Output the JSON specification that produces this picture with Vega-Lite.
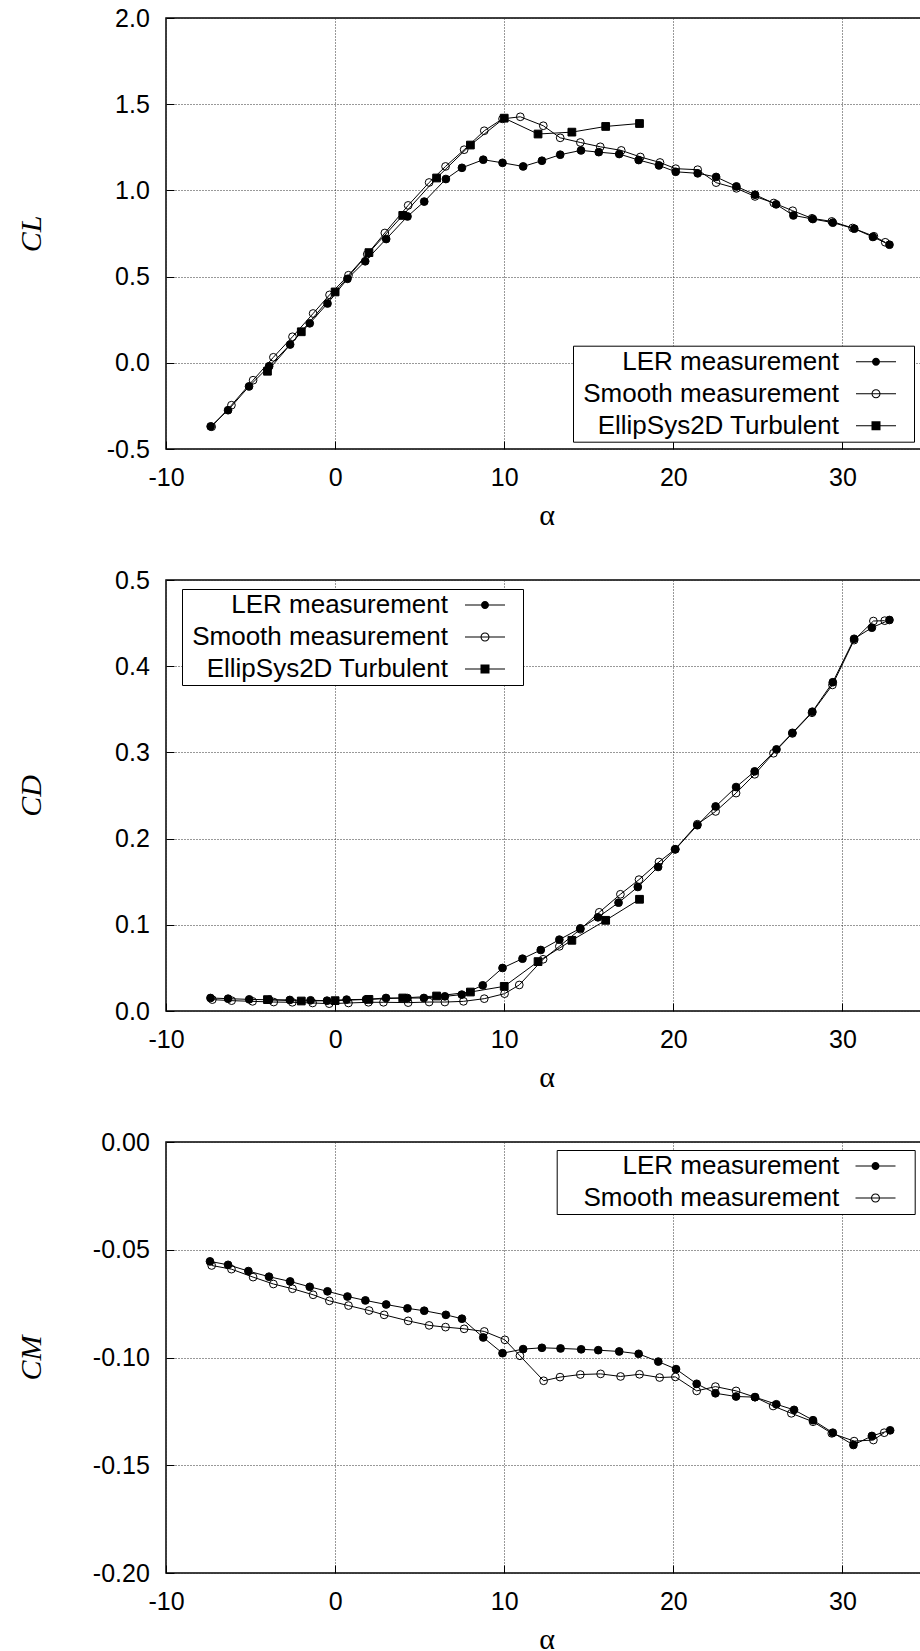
{
  "$schema": "https://vega.github.io/schema/vega-lite/v6.json",
  "padding": {"left": 15, "top": 5, "right": 0, "bottom": 5},
  "bounds": "flush",
  "spacing": 131,
  "resolve": {
    "scale": {"shape": "independent", "fill": "independent"},
    "legend": {"shape": "independent", "fill": "independent"}
  },
  "config": {
    "view": {"stroke": "black", "strokeWidth": 1.5},
    "axis": {
      "domain": false, "grid": true, "gridColor": "#333", "gridDash": [1, 2], "gridWidth": 1,
      "ticks": true, "tickSize": -8, "tickColor": "black", "tickWidth": 1,
      "labelFont": "Liberation Sans", "labelFontSize": 25, "labelColor": "black", "labelFlush": false,
      "titleFont": "Liberation Serif", "titleFontWeight": "normal", "titleColor": "black",
      "labelExpr": "replace(datum.label, '−', '-')"
    },
    "axisX": {"labelPadding": 24, "titleFontSize": 30, "titleY": 75, "titleBaseline": "alphabetic"},
    "axisY": {"labelPadding": 24.7, "titleFontSize": 30, "titleFontStyle": "italic", "titleX": -135, "titleY": 215.5, "titleBaseline": "middle"},
    "legend": {
      "orient": "none", "title": null,
      "labelFont": "Liberation Sans", "labelFontSize": 26, "labelColor": "black", "labelLimit": 1000, "labelAlign": "right",
      "symbolSize": 625, "symbolStrokeWidth": 1, "symbolStrokeColor": "black", "symbolFillColor": "black", "symbolOpacity": 1,
      "rowPadding": 6, "padding": 3, "strokeColor": "black", "fillColor": "white"
    }
  },
  "datasets": {
    "cl": [
      {"s": "LER measurement", "a": -7.36, "v": -0.369}, {"s": "LER measurement", "a": -6.33, "v": -0.275},
      {"s": "LER measurement", "a": -5.09, "v": -0.137}, {"s": "LER measurement", "a": -3.9, "v": -0.02},
      {"s": "LER measurement", "a": -2.66, "v": 0.106}, {"s": "LER measurement", "a": -1.5, "v": 0.229},
      {"s": "LER measurement", "a": -0.45, "v": 0.344}, {"s": "LER measurement", "a": 0.73, "v": 0.487},
      {"s": "LER measurement", "a": 1.78, "v": 0.589}, {"s": "LER measurement", "a": 3.02, "v": 0.718},
      {"s": "LER measurement", "a": 4.28, "v": 0.849}, {"s": "LER measurement", "a": 5.27, "v": 0.935},
      {"s": "LER measurement", "a": 6.55, "v": 1.066}, {"s": "LER measurement", "a": 7.5, "v": 1.131},
      {"s": "LER measurement", "a": 8.76, "v": 1.178}, {"s": "LER measurement", "a": 9.9, "v": 1.16},
      {"s": "LER measurement", "a": 11.12, "v": 1.139}, {"s": "LER measurement", "a": 12.23, "v": 1.172},
      {"s": "LER measurement", "a": 13.31, "v": 1.207}, {"s": "LER measurement", "a": 14.54, "v": 1.232},
      {"s": "LER measurement", "a": 15.59, "v": 1.222}, {"s": "LER measurement", "a": 16.8, "v": 1.211},
      {"s": "LER measurement", "a": 17.95, "v": 1.176}, {"s": "LER measurement", "a": 19.15, "v": 1.145},
      {"s": "LER measurement", "a": 20.14, "v": 1.108}, {"s": "LER measurement", "a": 21.44, "v": 1.099},
      {"s": "LER measurement", "a": 22.53, "v": 1.078}, {"s": "LER measurement", "a": 23.73, "v": 1.023},
      {"s": "LER measurement", "a": 24.83, "v": 0.975}, {"s": "LER measurement", "a": 26.08, "v": 0.919},
      {"s": "LER measurement", "a": 27.1, "v": 0.855}, {"s": "LER measurement", "a": 28.25, "v": 0.834},
      {"s": "LER measurement", "a": 29.43, "v": 0.813}, {"s": "LER measurement", "a": 30.7, "v": 0.778},
      {"s": "LER measurement", "a": 31.8, "v": 0.73}, {"s": "LER measurement", "a": 32.78, "v": 0.685},
      {"s": "Smooth measurement", "a": -7.3, "v": -0.371}, {"s": "Smooth measurement", "a": -6.13, "v": -0.246},
      {"s": "Smooth measurement", "a": -4.85, "v": -0.101}, {"s": "Smooth measurement", "a": -3.65, "v": 0.032},
      {"s": "Smooth measurement", "a": -2.52, "v": 0.151}, {"s": "Smooth measurement", "a": -1.3, "v": 0.286},
      {"s": "Smooth measurement", "a": -0.33, "v": 0.394}, {"s": "Smooth measurement", "a": 0.79, "v": 0.508},
      {"s": "Smooth measurement", "a": 1.9, "v": 0.63}, {"s": "Smooth measurement", "a": 2.94, "v": 0.753},
      {"s": "Smooth measurement", "a": 4.32, "v": 0.913}, {"s": "Smooth measurement", "a": 5.56, "v": 1.046},
      {"s": "Smooth measurement", "a": 6.53, "v": 1.139}, {"s": "Smooth measurement", "a": 7.63, "v": 1.236},
      {"s": "Smooth measurement", "a": 8.82, "v": 1.346}, {"s": "Smooth measurement", "a": 9.9, "v": 1.415},
      {"s": "Smooth measurement", "a": 10.95, "v": 1.427}, {"s": "Smooth measurement", "a": 12.31, "v": 1.375},
      {"s": "Smooth measurement", "a": 13.31, "v": 1.305}, {"s": "Smooth measurement", "a": 14.5, "v": 1.278},
      {"s": "Smooth measurement", "a": 15.68, "v": 1.253}, {"s": "Smooth measurement", "a": 16.92, "v": 1.232},
      {"s": "Smooth measurement", "a": 18.05, "v": 1.194}, {"s": "Smooth measurement", "a": 19.21, "v": 1.162},
      {"s": "Smooth measurement", "a": 20.14, "v": 1.126}, {"s": "Smooth measurement", "a": 21.44, "v": 1.12},
      {"s": "Smooth measurement", "a": 22.53, "v": 1.045}, {"s": "Smooth measurement", "a": 23.73, "v": 1.012},
      {"s": "Smooth measurement", "a": 24.83, "v": 0.965}, {"s": "Smooth measurement", "a": 25.94, "v": 0.927},
      {"s": "Smooth measurement", "a": 27.06, "v": 0.882}, {"s": "Smooth measurement", "a": 28.2, "v": 0.838},
      {"s": "Smooth measurement", "a": 29.37, "v": 0.82}, {"s": "Smooth measurement", "a": 30.6, "v": 0.782},
      {"s": "Smooth measurement", "a": 31.86, "v": 0.734}, {"s": "Smooth measurement", "a": 32.53, "v": 0.699},
      {"s": "EllipSys2D Turbulent", "a": -4, "v": -0.049}, {"s": "EllipSys2D Turbulent", "a": -2, "v": 0.18},
      {"s": "EllipSys2D Turbulent", "a": 0, "v": 0.411}, {"s": "EllipSys2D Turbulent", "a": 2, "v": 0.639},
      {"s": "EllipSys2D Turbulent", "a": 4, "v": 0.855}, {"s": "EllipSys2D Turbulent", "a": 6, "v": 1.072},
      {"s": "EllipSys2D Turbulent", "a": 8, "v": 1.263}, {"s": "EllipSys2D Turbulent", "a": 10, "v": 1.419},
      {"s": "EllipSys2D Turbulent", "a": 12, "v": 1.327}, {"s": "EllipSys2D Turbulent", "a": 14, "v": 1.338},
      {"s": "EllipSys2D Turbulent", "a": 16, "v": 1.371}, {"s": "EllipSys2D Turbulent", "a": 18, "v": 1.388}
    ],
    "cd": [
      {"s": "LER measurement", "a": -7.37, "v": 0.0151}, {"s": "LER measurement", "a": -6.33, "v": 0.0143},
      {"s": "LER measurement", "a": -5.08, "v": 0.0135}, {"s": "LER measurement", "a": -3.9, "v": 0.013},
      {"s": "LER measurement", "a": -2.68, "v": 0.0128}, {"s": "LER measurement", "a": -1.45, "v": 0.0124},
      {"s": "LER measurement", "a": -0.48, "v": 0.012}, {"s": "LER measurement", "a": 0.68, "v": 0.0132},
      {"s": "LER measurement", "a": 1.83, "v": 0.0135}, {"s": "LER measurement", "a": 3.01, "v": 0.0151},
      {"s": "LER measurement", "a": 4.28, "v": 0.015}, {"s": "LER measurement", "a": 5.25, "v": 0.0151},
      {"s": "LER measurement", "a": 6.49, "v": 0.017}, {"s": "LER measurement", "a": 7.49, "v": 0.019},
      {"s": "LER measurement", "a": 8.73, "v": 0.0298}, {"s": "LER measurement", "a": 9.9, "v": 0.0499},
      {"s": "LER measurement", "a": 11.08, "v": 0.0607}, {"s": "LER measurement", "a": 12.16, "v": 0.0708},
      {"s": "LER measurement", "a": 13.26, "v": 0.0828}, {"s": "LER measurement", "a": 14.5, "v": 0.0959},
      {"s": "LER measurement", "a": 15.54, "v": 0.1087}, {"s": "LER measurement", "a": 16.76, "v": 0.1257},
      {"s": "LER measurement", "a": 17.9, "v": 0.1439}, {"s": "LER measurement", "a": 19.1, "v": 0.1671},
      {"s": "LER measurement", "a": 20.12, "v": 0.1876}, {"s": "LER measurement", "a": 21.42, "v": 0.2155},
      {"s": "LER measurement", "a": 22.5, "v": 0.2373}, {"s": "LER measurement", "a": 23.71, "v": 0.2598},
      {"s": "LER measurement", "a": 24.81, "v": 0.278}, {"s": "LER measurement", "a": 26.1, "v": 0.3035},
      {"s": "LER measurement", "a": 27.04, "v": 0.3227}, {"s": "LER measurement", "a": 28.22, "v": 0.3472},
      {"s": "LER measurement", "a": 29.43, "v": 0.3814}, {"s": "LER measurement", "a": 30.69, "v": 0.4318},
      {"s": "LER measurement", "a": 31.74, "v": 0.4447}, {"s": "LER measurement", "a": 32.78, "v": 0.4536},
      {"s": "Smooth measurement", "a": -7.26, "v": 0.0132}, {"s": "Smooth measurement", "a": -6.12, "v": 0.012},
      {"s": "Smooth measurement", "a": -4.88, "v": 0.0112}, {"s": "Smooth measurement", "a": -3.63, "v": 0.0104},
      {"s": "Smooth measurement", "a": -2.53, "v": 0.0101}, {"s": "Smooth measurement", "a": -1.33, "v": 0.0093},
      {"s": "Smooth measurement", "a": -0.35, "v": 0.0085}, {"s": "Smooth measurement", "a": 0.79, "v": 0.0093},
      {"s": "Smooth measurement", "a": 1.97, "v": 0.0101}, {"s": "Smooth measurement", "a": 2.86, "v": 0.0101},
      {"s": "Smooth measurement", "a": 4.32, "v": 0.0097}, {"s": "Smooth measurement", "a": 5.56, "v": 0.0104},
      {"s": "Smooth measurement", "a": 6.49, "v": 0.0104}, {"s": "Smooth measurement", "a": 7.59, "v": 0.0112},
      {"s": "Smooth measurement", "a": 8.82, "v": 0.0143}, {"s": "Smooth measurement", "a": 10.02, "v": 0.0201},
      {"s": "Smooth measurement", "a": 10.89, "v": 0.0302}, {"s": "Smooth measurement", "a": 12.3, "v": 0.06},
      {"s": "Smooth measurement", "a": 13.26, "v": 0.075}, {"s": "Smooth measurement", "a": 14.5, "v": 0.0948},
      {"s": "Smooth measurement", "a": 15.62, "v": 0.1145}, {"s": "Smooth measurement", "a": 16.87, "v": 0.1354},
      {"s": "Smooth measurement", "a": 17.97, "v": 0.1524}, {"s": "Smooth measurement", "a": 19.15, "v": 0.1729},
      {"s": "Smooth measurement", "a": 20.1, "v": 0.1876}, {"s": "Smooth measurement", "a": 21.42, "v": 0.2167},
      {"s": "Smooth measurement", "a": 22.5, "v": 0.2315}, {"s": "Smooth measurement", "a": 23.71, "v": 0.2528},
      {"s": "Smooth measurement", "a": 24.81, "v": 0.2746}, {"s": "Smooth measurement", "a": 25.92, "v": 0.299},
      {"s": "Smooth measurement", "a": 27.04, "v": 0.322}, {"s": "Smooth measurement", "a": 28.2, "v": 0.346},
      {"s": "Smooth measurement", "a": 29.41, "v": 0.3783}, {"s": "Smooth measurement", "a": 30.69, "v": 0.4303},
      {"s": "Smooth measurement", "a": 31.83, "v": 0.4524}, {"s": "Smooth measurement", "a": 32.5, "v": 0.4528},
      {"s": "EllipSys2D Turbulent", "a": -4, "v": 0.0132}, {"s": "EllipSys2D Turbulent", "a": -2, "v": 0.0116},
      {"s": "EllipSys2D Turbulent", "a": 0, "v": 0.012}, {"s": "EllipSys2D Turbulent", "a": 2, "v": 0.0135},
      {"s": "EllipSys2D Turbulent", "a": 4, "v": 0.0151}, {"s": "EllipSys2D Turbulent", "a": 6, "v": 0.0174},
      {"s": "EllipSys2D Turbulent", "a": 8, "v": 0.022}, {"s": "EllipSys2D Turbulent", "a": 10, "v": 0.0286},
      {"s": "EllipSys2D Turbulent", "a": 12, "v": 0.0573}, {"s": "EllipSys2D Turbulent", "a": 14, "v": 0.082},
      {"s": "EllipSys2D Turbulent", "a": 16, "v": 0.1052}, {"s": "EllipSys2D Turbulent", "a": 18, "v": 0.1296}
    ],
    "cm": [
      {"s": "LER measurement", "a": -7.4, "v": -0.0554}, {"s": "LER measurement", "a": -6.33, "v": -0.057},
      {"s": "LER measurement", "a": -5.13, "v": -0.0599}, {"s": "LER measurement", "a": -3.91, "v": -0.0625},
      {"s": "LER measurement", "a": -2.66, "v": -0.0647}, {"s": "LER measurement", "a": -1.5, "v": -0.0672},
      {"s": "LER measurement", "a": -0.45, "v": -0.0693}, {"s": "LER measurement", "a": 0.73, "v": -0.0717},
      {"s": "LER measurement", "a": 1.79, "v": -0.0735}, {"s": "LER measurement", "a": 3.02, "v": -0.0754},
      {"s": "LER measurement", "a": 4.28, "v": -0.0772}, {"s": "LER measurement", "a": 5.27, "v": -0.0783},
      {"s": "LER measurement", "a": 6.55, "v": -0.0802}, {"s": "LER measurement", "a": 7.5, "v": -0.082},
      {"s": "LER measurement", "a": 8.76, "v": -0.0907}, {"s": "LER measurement", "a": 9.9, "v": -0.098},
      {"s": "LER measurement", "a": 11.12, "v": -0.0961}, {"s": "LER measurement", "a": 12.23, "v": -0.0955},
      {"s": "LER measurement", "a": 13.33, "v": -0.0958}, {"s": "LER measurement", "a": 14.55, "v": -0.0962},
      {"s": "LER measurement", "a": 15.56, "v": -0.0966}, {"s": "LER measurement", "a": 16.8, "v": -0.0972},
      {"s": "LER measurement", "a": 17.95, "v": -0.0983}, {"s": "LER measurement", "a": 19.11, "v": -0.1019},
      {"s": "LER measurement", "a": 20.16, "v": -0.1054}, {"s": "LER measurement", "a": 21.38, "v": -0.1122},
      {"s": "LER measurement", "a": 22.49, "v": -0.1166}, {"s": "LER measurement", "a": 23.71, "v": -0.1181},
      {"s": "LER measurement", "a": 24.83, "v": -0.1184}, {"s": "LER measurement", "a": 26.09, "v": -0.1217},
      {"s": "LER measurement", "a": 27.14, "v": -0.1243}, {"s": "LER measurement", "a": 28.26, "v": -0.1291},
      {"s": "LER measurement", "a": 29.43, "v": -0.1349}, {"s": "LER measurement", "a": 30.65, "v": -0.1406},
      {"s": "LER measurement", "a": 31.74, "v": -0.1364}, {"s": "LER measurement", "a": 32.82, "v": -0.1338},
      {"s": "Smooth measurement", "a": -7.3, "v": -0.0573}, {"s": "Smooth measurement", "a": -6.13, "v": -0.059},
      {"s": "Smooth measurement", "a": -4.85, "v": -0.0627}, {"s": "Smooth measurement", "a": -3.65, "v": -0.0659},
      {"s": "Smooth measurement", "a": -2.52, "v": -0.0681}, {"s": "Smooth measurement", "a": -1.3, "v": -0.0709},
      {"s": "Smooth measurement", "a": -0.34, "v": -0.0737}, {"s": "Smooth measurement", "a": 0.79, "v": -0.0759},
      {"s": "Smooth measurement", "a": 2.01, "v": -0.0782}, {"s": "Smooth measurement", "a": 2.9, "v": -0.0802},
      {"s": "Smooth measurement", "a": 4.32, "v": -0.083}, {"s": "Smooth measurement", "a": 5.56, "v": -0.0851},
      {"s": "Smooth measurement", "a": 6.53, "v": -0.0859}, {"s": "Smooth measurement", "a": 7.63, "v": -0.0867},
      {"s": "Smooth measurement", "a": 8.82, "v": -0.0879}, {"s": "Smooth measurement", "a": 10.04, "v": -0.0918},
      {"s": "Smooth measurement", "a": 10.93, "v": -0.0992}, {"s": "Smooth measurement", "a": 12.33, "v": -0.1108},
      {"s": "Smooth measurement", "a": 13.3, "v": -0.1091}, {"s": "Smooth measurement", "a": 14.5, "v": -0.1079},
      {"s": "Smooth measurement", "a": 15.7, "v": -0.1076}, {"s": "Smooth measurement", "a": 16.88, "v": -0.1088},
      {"s": "Smooth measurement", "a": 18.0, "v": -0.1078}, {"s": "Smooth measurement", "a": 19.19, "v": -0.1093},
      {"s": "Smooth measurement", "a": 20.12, "v": -0.109}, {"s": "Smooth measurement", "a": 21.38, "v": -0.1155},
      {"s": "Smooth measurement", "a": 22.49, "v": -0.1135}, {"s": "Smooth measurement", "a": 23.71, "v": -0.1155},
      {"s": "Smooth measurement", "a": 24.83, "v": -0.1184}, {"s": "Smooth measurement", "a": 25.9, "v": -0.1225},
      {"s": "Smooth measurement", "a": 26.98, "v": -0.1259}, {"s": "Smooth measurement", "a": 28.26, "v": -0.1298},
      {"s": "Smooth measurement", "a": 29.37, "v": -0.1352}, {"s": "Smooth measurement", "a": 30.69, "v": -0.1388},
      {"s": "Smooth measurement", "a": 31.83, "v": -0.1383}, {"s": "Smooth measurement", "a": 32.47, "v": -0.1349}
    ]
  },
  "vconcat": [
    {
      "width": 761, "height": 431,
      "data": {"name": "cl"},
      "resolve": {"scale": {"shape": "independent"}, "legend": {"shape": "independent"}},
      "encoding": {
        "x": {"field": "a", "type": "quantitative", "title": "α",
              "scale": {"domain": [-10, 35], "nice": false, "zero": false},
              "axis": {"values": [-10, 0, 10, 20, 30]}},
        "y": {"field": "v", "type": "quantitative", "title": "CL",
              "scale": {"domain": [-0.5, 2.0], "nice": false, "zero": false},
              "axis": {"values": [-0.5, 0, 0.5, 1.0, 1.5, 2.0], "format": ".1f"}}
      },
      "layer": [
        {"mark": {"type": "line", "color": "black", "strokeWidth": 1},
         "encoding": {"detail": {"field": "s"}}},
        {"mark": {"type": "point", "filled": false, "stroke": "black", "strokeWidth": 1, "opacity": 1, "size": 60},
         "encoding": {
           "shape": {"field": "s", "type": "nominal",
             "scale": {"domain": ["LER measurement", "Smooth measurement", "EllipSys2D Turbulent"], "range": ["circle", "circle", "square"]},
             "legend": null},
           "fill": {"field": "s", "type": "nominal",
             "scale": {"domain": ["LER measurement", "Smooth measurement", "EllipSys2D Turbulent"], "range": ["black", "transparent", "black"]},
             "legend": null}
         }},
        {"transform": [{"filter": "datum.a > 1000"}],
         "mark": {"type": "point", "filled": true, "color": "black", "opacity": 1},
         "encoding": {
           "shape": {"field": "s", "type": "nominal",
             "scale": {"domain": ["LER measurement", "Smooth measurement", "EllipSys2D Turbulent"],
                       "range": ["M-24,0M2.64,0M-1.6,-0.04H1.6V0.04H-1.6ZM0.32,0A0.32,0.32,0,1,1,-0.32,0A0.32,0.32,0,1,1,0.32,0Z",
                                 "M-24,0M2.64,0M-1.6,-0.04H1.6V0.04H-1.6ZM0.36,0A0.36,0.36,0,1,1,-0.36,0A0.36,0.36,0,1,1,0.36,0ZM0.28,0A0.28,0.28,0,1,0,-0.28,0A0.28,0.28,0,1,0,0.28,0Z",
                                 "M-24,0M2.64,0M-1.6,-0.04H1.6V0.04H-1.6ZM-0.36,-0.36H0.36V0.36H-0.36Z"]},
             "legend": {"legendX": 407, "legendY": 327.7, "labelOffset": -50, "symbolOffset": 287}}
         }}
      ]
    },
    {
      "width": 761, "height": 431,
      "data": {"name": "cd"},
      "resolve": {"scale": {"shape": "independent"}, "legend": {"shape": "independent"}},
      "encoding": {
        "x": {"field": "a", "type": "quantitative", "title": "α",
              "scale": {"domain": [-10, 35], "nice": false, "zero": false},
              "axis": {"values": [-10, 0, 10, 20, 30]}},
        "y": {"field": "v", "type": "quantitative", "title": "CD",
              "scale": {"domain": [0, 0.5], "nice": false, "zero": false},
              "axis": {"values": [0, 0.1, 0.2, 0.3, 0.4, 0.5], "format": ".1f"}}
      },
      "layer": [
        {"mark": {"type": "line", "color": "black", "strokeWidth": 1},
         "encoding": {"detail": {"field": "s"}}},
        {"mark": {"type": "point", "filled": false, "stroke": "black", "strokeWidth": 1, "opacity": 1, "size": 60},
         "encoding": {
           "shape": {"field": "s", "type": "nominal",
             "scale": {"domain": ["LER measurement", "Smooth measurement", "EllipSys2D Turbulent"], "range": ["circle", "circle", "square"]},
             "legend": null},
           "fill": {"field": "s", "type": "nominal",
             "scale": {"domain": ["LER measurement", "Smooth measurement", "EllipSys2D Turbulent"], "range": ["black", "transparent", "black"]},
             "legend": null}
         }},
        {"transform": [{"filter": "datum.a > 1000"}],
         "mark": {"type": "point", "filled": true, "color": "black", "opacity": 1},
         "encoding": {
           "shape": {"field": "s", "type": "nominal",
             "scale": {"domain": ["LER measurement", "Smooth measurement", "EllipSys2D Turbulent"],
                       "range": ["M-24,0M2.64,0M-1.6,-0.04H1.6V0.04H-1.6ZM0.32,0A0.32,0.32,0,1,1,-0.32,0A0.32,0.32,0,1,1,0.32,0Z",
                                 "M-24,0M2.64,0M-1.6,-0.04H1.6V0.04H-1.6ZM0.36,0A0.36,0.36,0,1,1,-0.36,0A0.36,0.36,0,1,1,0.36,0ZM0.28,0A0.28,0.28,0,1,0,-0.28,0A0.28,0.28,0,1,0,0.28,0Z",
                                 "M-24,0M2.64,0M-1.6,-0.04H1.6V0.04H-1.6ZM-0.36,-0.36H0.36V0.36H-0.36Z"]},
             "legend": {"legendX": 16, "legendY": 9, "labelOffset": -50, "symbolOffset": 287}}
         }}
      ]
    },
    {
      "width": 761, "height": 431,
      "data": {"name": "cm"},
      "resolve": {"scale": {"shape": "independent"}, "legend": {"shape": "independent"}},
      "encoding": {
        "x": {"field": "a", "type": "quantitative", "title": "α",
              "scale": {"domain": [-10, 35], "nice": false, "zero": false},
              "axis": {"values": [-10, 0, 10, 20, 30]}},
        "y": {"field": "v", "type": "quantitative", "title": "CM",
              "scale": {"domain": [-0.2, 0], "nice": false, "zero": false},
              "axis": {"values": [-0.2, -0.15, -0.1, -0.05, 0], "format": ".2f"}}
      },
      "layer": [
        {"mark": {"type": "line", "color": "black", "strokeWidth": 1},
         "encoding": {"detail": {"field": "s"}}},
        {"mark": {"type": "point", "shape": "circle", "filled": false, "stroke": "black", "strokeWidth": 1, "opacity": 1, "size": 60},
         "encoding": {
           "fill": {"field": "s", "type": "nominal",
             "scale": {"domain": ["LER measurement", "Smooth measurement"], "range": ["black", "transparent"]},
             "legend": null}
         }},
        {"transform": [{"filter": "datum.a > 1000"}],
         "mark": {"type": "point", "filled": true, "color": "black", "opacity": 1},
         "encoding": {
           "shape": {"field": "s", "type": "nominal",
             "scale": {"domain": ["LER measurement", "Smooth measurement"],
                       "range": ["M-25.26,0M2.66,0M-1.6,-0.04H1.6V0.04H-1.6ZM0.32,0A0.32,0.32,0,1,1,-0.32,0A0.32,0.32,0,1,1,0.32,0Z",
                                 "M-25.26,0M2.66,0M-1.6,-0.04H1.6V0.04H-1.6ZM0.36,0A0.36,0.36,0,1,1,-0.36,0A0.36,0.36,0,1,1,0.36,0ZM0.28,0A0.28,0.28,0,1,0,-0.28,0A0.28,0.28,0,1,0,0.28,0Z"]},
             "legend": {"legendX": 390.7, "legendY": 8, "labelOffset": -49.2, "symbolOffset": 302.8}}
         }}
      ]
    }
  ]
}
